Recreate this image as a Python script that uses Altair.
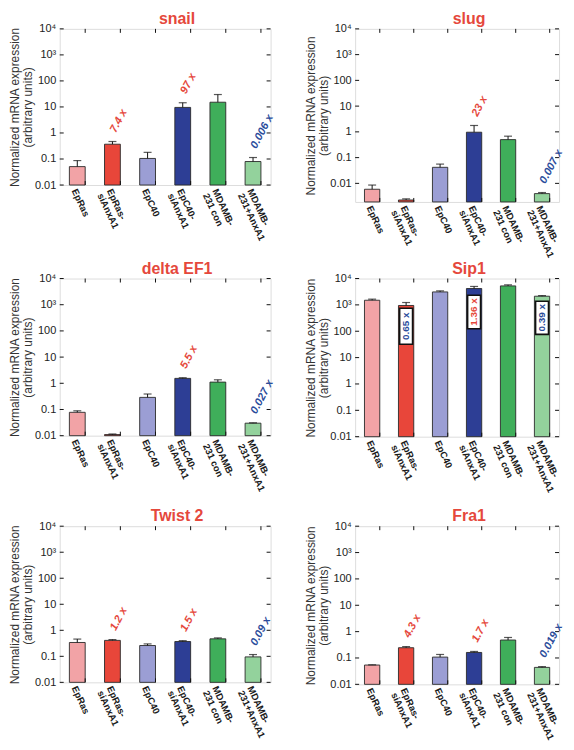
import altair as alt
import pandas as pd

# ---------------- data ----------------
cat_keys = ["EpRas", "EpRas-|siAnxA1", "EpC40", "EpC40-|siAnxA1", "MDAMB-|231 con", "MDAMB-|231+AnxA1"]
bar_colors = ["#F2A3A6", "#E8463A", "#9B9ED4", "#2D3E95", "#3FAE5A", "#93D29C"]

decades = [0.01, 0.1, 1, 10, 100, 1000, 10000]
y_tick_labels = ["0.01", "0.1", "1", "10", "100", "10³", "10⁴"]

snail_val = [0.051, 0.37, 0.105, 9.6, 15.2, 0.080]
snail_err = [0.087, 0.47, 0.18, 14.5, 30, 0.114]
snail_ann_idx = [1, 3, 5]
snail_ann_txt = ["7.4 x", "97 x", "0.006 x"]
snail_ann_col = ["up", "up", "down"]

slug_val = [0.0059, 0.00226, 0.042, 0.97, 0.50, 0.0040]
slug_err = [0.0086, 0.0025, 0.056, 1.77, 0.68, 0.0044]
slug_ann_idx = [3, 5]
slug_ann_txt = ["23 x", "0.007 x"]
slug_ann_col = ["up", "down"]
slug_ymin = 0.0019

delta_val = [0.078, 0.011, 0.29, 1.54, 1.11, 0.030]
delta_err = [0.089, 0.0116, 0.39, 1.63, 1.36, 0.031]
delta_ann_idx = [3, 5]
delta_ann_txt = ["5.5 x", "0.027 x"]
delta_ann_col = ["up", "down"]

sip1_val = [1500, 950, 3100, 4170, 5250, 2130]
sip1_err = [1650, 1230, 3400, 5000, 5750, 2250]
sip1_box_idx = [1, 3, 5]
sip1_box_txt = ["0.65 x", "1.36 x", "0.39 x"]
sip1_box_col = ["down", "up", "down"]
sip1_box_top = [740, 2330, 1380]
sip1_box_bottom = [32, 125, 76]

twist_val = [0.34, 0.41, 0.26, 0.37, 0.47, 0.095]
twist_err = [0.46, 0.44, 0.30, 0.40, 0.51, 0.117]
twist_ann_idx = [1, 3, 5]
twist_ann_txt = ["1.2 x", "1.5 x", "0.09 x"]
twist_ann_col = ["up", "up", "down"]

fra1_val = [0.054, 0.245, 0.108, 0.162, 0.48, 0.044]
fra1_err = [0.055, 0.27, 0.136, 0.177, 0.60, 0.047]
fra1_ann_idx = [1, 3, 5]
fra1_ann_txt = ["4.3 x", "1.7 x", "0.019 x"]
fra1_ann_col = ["up", "up", "down"]

# ---------------- styles ----------------
RED = "#E5483C"
BLUE = "#2B4C9B"
ann_colors = {"up": RED, "down": BLUE}
FONT = "Liberation Sans"

label_expr = "datum.label"
for v, lab in zip(decades, y_tick_labels):
    label_expr = f"abs(datum.value - {v}) < {v} * 0.001 ? '{lab}' : ({label_expr})"


def panel(title, vals, errs, W, H, ymin=0.01, ann=None, box=None):
    df = pd.DataFrame({"cat": cat_keys, "val": vals, "err": errs,
                       "base": [ymin] * len(vals), "fill": bar_colors})
    xscale = alt.Scale(paddingInner=0.55, paddingOuter=0.275)
    xaxis = alt.Axis(
        title=None, labelAngle=65, labelAlign="left", labelBaseline="middle",
        labelExpr="split(datum.label, '|')", ticks=False, domain=False, grid=False,
        labelFontWeight="bold", labelFontSize=9.5, labelLineHeight=10.5,
        labelPadding=4, labelOffset=-3, labelColor="#1a1a1a", labelFont=FONT,
    )
    yscale = alt.Scale(type="log", domain=[ymin, 10000], nice=False)
    yaxis = alt.Axis(
        values=decades, labelExpr=label_expr, ticks=False, domain=False, grid=False,
        title=["Normalized mRNA expression", "(arbitrary units)"],
        titleFontSize=12, titleFontWeight="normal", titleColor="#333", titleFont=FONT,
        titleX=-38, titleY=H / 2, titleAngle=270, titleBaseline="bottom",
        titleAlign="center", titleLineHeight=13,
        labelFontSize=11, labelColor="#222", labelPadding=4, labelFont=FONT,
    )

    def X(**kw):
        return alt.X("cat:N", sort=cat_keys, scale=xscale, axis=xaxis, **kw)

    def Y(field):
        return alt.Y(field, scale=yscale, axis=yaxis)

    base = alt.Chart(df)
    bars = base.mark_bar(stroke="#2a2a2a", strokeWidth=0.9).encode(
        x=X(), y=Y("val:Q"), y2="base:Q",
        fill=alt.Fill("fill:N", scale=None),
    )
    err_line = base.mark_rule(color="#111", strokeWidth=1).encode(
        x=X(), y=Y("val:Q"), y2="err:Q"
    )
    cap = base.mark_tick(color="#111", size=8, thickness=1.2).encode(
        x=X(), y=Y("err:Q")
    )
    dec = alt.Chart(pd.DataFrame({"d": decades}))
    lt = dec.mark_rule(color="#111").encode(
        y=Y("d:Q"), x=alt.value(0), x2=alt.value(4)
    )
    rt = dec.mark_rule(color="#111").encode(
        y=Y("d:Q"), x=alt.value(W - 4), x2=alt.value(W)
    )
    bt = base.mark_rule(color="#111").encode(x=X(bandPosition=1), y=alt.value(H), y2=alt.value(H - 4))
    tt = base.mark_rule(color="#111").encode(x=X(bandPosition=1), y=alt.value(0), y2=alt.value(4))
    layers = [bars, err_line, cap, lt, rt, bt, tt]
    if ann is not None:
        idx, txt, col = ann
        adf = pd.DataFrame({
            "cat": [cat_keys[i] for i in idx],
            "err": [errs[i] for i in idx],
            "txt": txt,
            "col": [ann_colors[c] for c in col],
        })
        layers.append(
            alt.Chart(adf).mark_text(
                angle=298, align="left", baseline="middle", dx=9, dy=-4,
                fontSize=11, fontWeight="bold", fontStyle="italic", font=FONT,
            ).encode(x=X(), y=Y("err:Q"), text="txt:N",
                     fill=alt.Fill("col:N", scale=None))
        )
    if box is not None:
        idx, txt, col, top, bot = box
        bdf = pd.DataFrame({
            "cat": [cat_keys[i] for i in idx],
            "btop": top, "bbot": bot,
            "bmid": [(a * b) ** 0.5 for a, b in zip(top, bot)],
            "txt": txt,
            "col": [ann_colors[c] for c in col],
        })
        bb = alt.Chart(bdf)
        layers.append(
            bb.mark_bar(width=13, fill="white", stroke="#111", strokeWidth=1.6).encode(
                x=X(), y=Y("btop:Q"), y2="bbot:Q"
            )
        )
        layers.append(
            bb.mark_text(angle=270, align="center", baseline="middle",
                         fontSize=10, fontWeight="bold", font=FONT).encode(
                x=X(), y=Y("bmid:Q"), text="txt:N",
                fill=alt.Fill("col:N", scale=None)
            )
        )
    return alt.layer(*layers).properties(
        width=W, height=H,
        title=alt.TitleParams(text=title, color=RED, fontSize=16, fontWeight="bold",
                              font=FONT, dx=12, offset=-4, anchor="middle"),
    )


snail = panel("snail", snail_val, snail_err, 212, 157,
              ann=(snail_ann_idx, snail_ann_txt, snail_ann_col))
slug = panel("slug", slug_val, slug_err, 205, 174, ymin=slug_ymin,
             ann=(slug_ann_idx, slug_ann_txt, slug_ann_col))
delta = panel("delta EF1", delta_val, delta_err, 212, 158,
              ann=(delta_ann_idx, delta_ann_txt, delta_ann_col))
sip1 = panel("Sip1", sip1_val, sip1_err, 205, 159,
             box=(sip1_box_idx, sip1_box_txt, sip1_box_col, sip1_box_top, sip1_box_bottom))
twist = panel("Twist 2", twist_val, twist_err, 212, 157,
              ann=(twist_ann_idx, twist_ann_txt, twist_ann_col))
fra1 = panel("Fra1", fra1_val, fra1_err, 205, 159,
             ann=(fra1_ann_idx, fra1_ann_txt, fra1_ann_col))

row1 = alt.hconcat(snail, slug, spacing=27)
row2 = alt.hconcat(delta, sip1, spacing=27)
row3 = alt.hconcat(twist, fra1, spacing=27)

top_rows = alt.vconcat(row1, row2, spacing=0)
chart = alt.vconcat(top_rows, row3, spacing=13).properties(padding=0).configure_view(
    stroke="#111", strokeWidth=1
).configure(font=FONT)

chart.save("out.html", embed_options={"renderer": "svg", "actions": False})
